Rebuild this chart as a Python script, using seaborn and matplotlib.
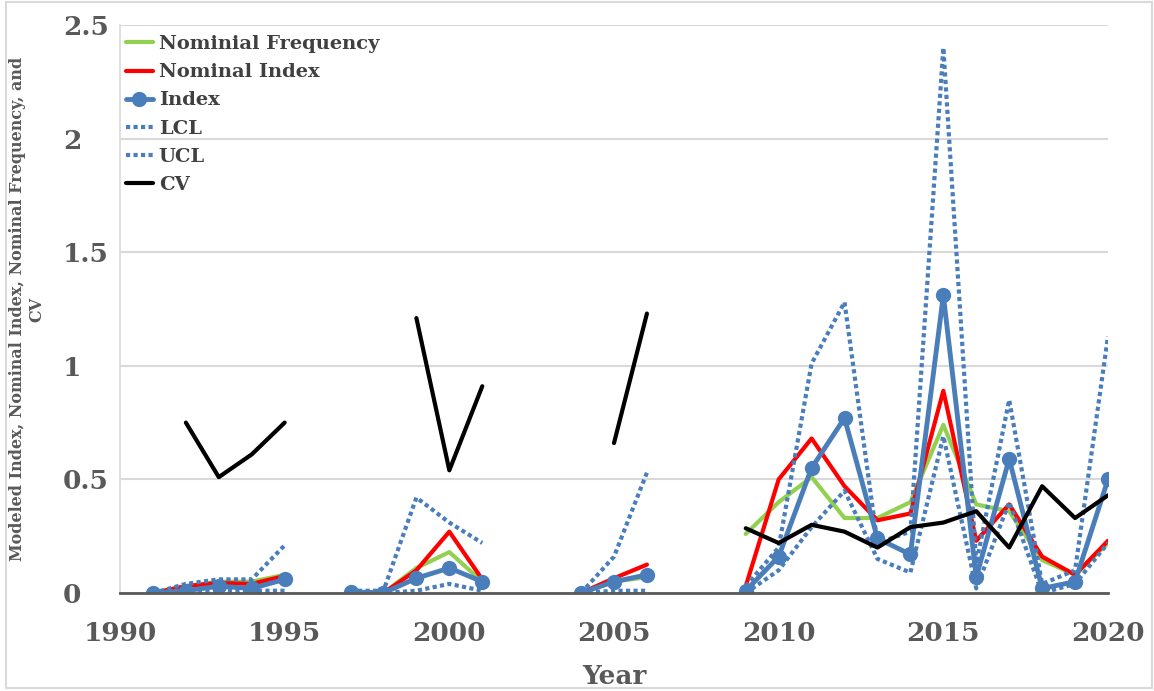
import numpy as np
import pandas as pd
import matplotlib
matplotlib.use("Agg")
import matplotlib.pyplot as plt
from matplotlib.lines import Line2D
from matplotlib.patches import Rectangle
import seaborn as sns

nan = np.nan

# Survey years, grouped into continuous runs (gaps are years without data)
years = [1991, 1992, 1993, 1994, 1995,
         1997, 1998, 1999, 2000, 2001,
         2004, 2005, 2006,
         2009, 2010, 2011, 2012, 2013, 2014, 2015, 2016, 2017, 2018, 2019, 2020]
segment = [0] * 5 + [1] * 5 + [2] * 3 + [3] * 12

nominal_frequency = [0.0, 0.03, 0.05, 0.05, 0.08,
                     0.005, 0.0, 0.11, 0.18, 0.05,
                     0.0, 0.05, 0.07,
                     0.26, 0.40, 0.51, 0.33, 0.33, 0.40, 0.74, 0.39, 0.36, 0.145, 0.08, 0.22]
nominal_index = [0.0, 0.03, 0.045, 0.04, 0.075,
                 0.005, 0.0, 0.10, 0.27, 0.06,
                 0.0, 0.065, 0.125,
                 0.03, 0.50, 0.68, 0.47, 0.32, 0.35, 0.89, 0.23, 0.39, 0.16, 0.08, 0.23]
index = [0.0, 0.01, 0.03, 0.02, 0.06,
         0.005, 0.0, 0.065, 0.11, 0.05,
         0.0, 0.05, 0.08,
         0.01, 0.16, 0.55, 0.77, 0.24, 0.17, 1.31, 0.07, 0.59, 0.02, 0.05, 0.50]
lcl = [0.0, 0.005, 0.01, 0.01, 0.01,
       0.0, 0.0, 0.01, 0.04, 0.01,
       0.0, 0.01, 0.01,
       0.0, 0.10, 0.29, 0.45, 0.15, 0.09, 0.69, 0.02, 0.40, 0.0, 0.04, 0.22]
ucl = [0.0, 0.04, 0.06, 0.06, 0.21,
       0.01, 0.01, 0.42, 0.31, 0.22,
       0.0, 0.16, 0.53,
       0.03, 0.20, 1.01, 1.28, 0.22, 0.27, 2.40, 0.13, 0.85, 0.04, 0.10, 1.13]
cv = [nan, 0.75, 0.51, 0.61, 0.75,
      nan, nan, 1.21, 0.54, 0.91,
      nan, 0.66, 1.23,
      0.285, 0.22, 0.30, 0.27, 0.20, 0.29, 0.31, 0.36, 0.20, 0.47, 0.33, 0.43]

x_ticks = [1990, 1995, 2000, 2005, 2010, 2015, 2020]
y_ticks = [0, 0.5, 1, 1.5, 2, 2.5]
y_tick_labels = ["0", "0.5", "1", "1.5", "2", "2.5"]

df = pd.DataFrame({
    "Year": years, "seg": segment,
    "Nominial Frequency": nominal_frequency,
    "Nominal Index": nominal_index,
    "Index": index, "LCL": lcl, "UCL": ucl, "CV": cv,
})

sns.set_style("white")
plt.rcParams["font.family"] = ["DejaVu Serif"]
plt.rcParams["font.weight"] = "bold"

BLUE = "#4A7EBB"
GREEN = "#92D050"
RED = "#FF0000"
TXT = "#595959"
GRID = "#D9D9D9"

fig = plt.figure(figsize=(11.54, 6.91), dpi=100)
ax = fig.add_axes([120 / 1154, 1 - 593 / 691, 988 / 1154, 568 / 691])

styles = [
    ("Nominial Frequency", dict(color=GREEN, lw=3.0)),
    ("Nominal Index", dict(color=RED, lw=3.0)),
    ("Index", dict(color=BLUE, lw=3.5, marker="o", markersize=11, markeredgewidth=0)),
    ("LCL", dict(color=BLUE, lw=3.0, linestyle=(0, (1, 0.8)))),
    ("UCL", dict(color=BLUE, lw=3.0, linestyle=(0, (1, 0.8)))),
    ("CV", dict(color="black", lw=3.0)),
]

for name, kw in styles:
    sns.lineplot(data=df, x="Year", y=name, units="seg", estimator=None,
                 ax=ax, legend=False, **kw)

ax.set_xlim(1990, 2020)
ax.set_ylim(0, 2.5)
ax.set_xticks(x_ticks)
ax.set_xticklabels([str(t) for t in x_ticks])
ax.set_yticks(y_ticks)
ax.set_yticklabels(y_tick_labels)
ax.grid(axis="y", color=GRID, lw=1.5)
ax.grid(axis="x", visible=False)
ax.set_axisbelow(True)

for s in ["top", "right"]:
    ax.spines[s].set_visible(False)
ax.spines["left"].set_color(GRID)
ax.spines["left"].set_linewidth(1.2)
ax.spines["bottom"].set_color("#595959")
ax.spines["bottom"].set_linewidth(2)

ax.tick_params(axis="x", length=0, pad=20, labelsize=19, labelcolor=TXT)
ax.tick_params(axis="y", length=0, pad=41, labelsize=19, labelcolor=TXT)
for lbl in ax.get_yticklabels():
    lbl.set_horizontalalignment("left")
for lbl in ax.get_xticklabels() + ax.get_yticklabels():
    lbl.set_fontweight("bold")

ax.set_xlabel("Year", fontsize=19, fontweight="bold", color=TXT)
ax.xaxis.set_label_coords(0.5, -0.125)
ax.set_ylabel("Modeled Index, Nominal Index, Nominal Frequency, and\nCV",
              fontsize=11.5, fontweight="bold", color=TXT, linespacing=1.15)
ax.yaxis.set_label_coords(-0.076, 0.5)

handles = []
for name, kw in styles:
    handles.append(Line2D([], [], label=name, **kw))
ax.legend(handles=handles, loc="upper left", bbox_to_anchor=(-0.008, 1.006),
          frameon=False, handlelength=1.4, handletextpad=0.3,
          labelspacing=0.52, borderaxespad=0.3, labelcolor="#404040",
          prop={"weight": "bold", "size": 14})

fig.patches.append(Rectangle((6 / 1154, 3 / 691), 1146 / 1154, 686 / 691,
                             transform=fig.transFigure, fill=False,
                             edgecolor=GRID, lw=1.5))

fig.savefig("out.png", dpi=100, facecolor="white")
